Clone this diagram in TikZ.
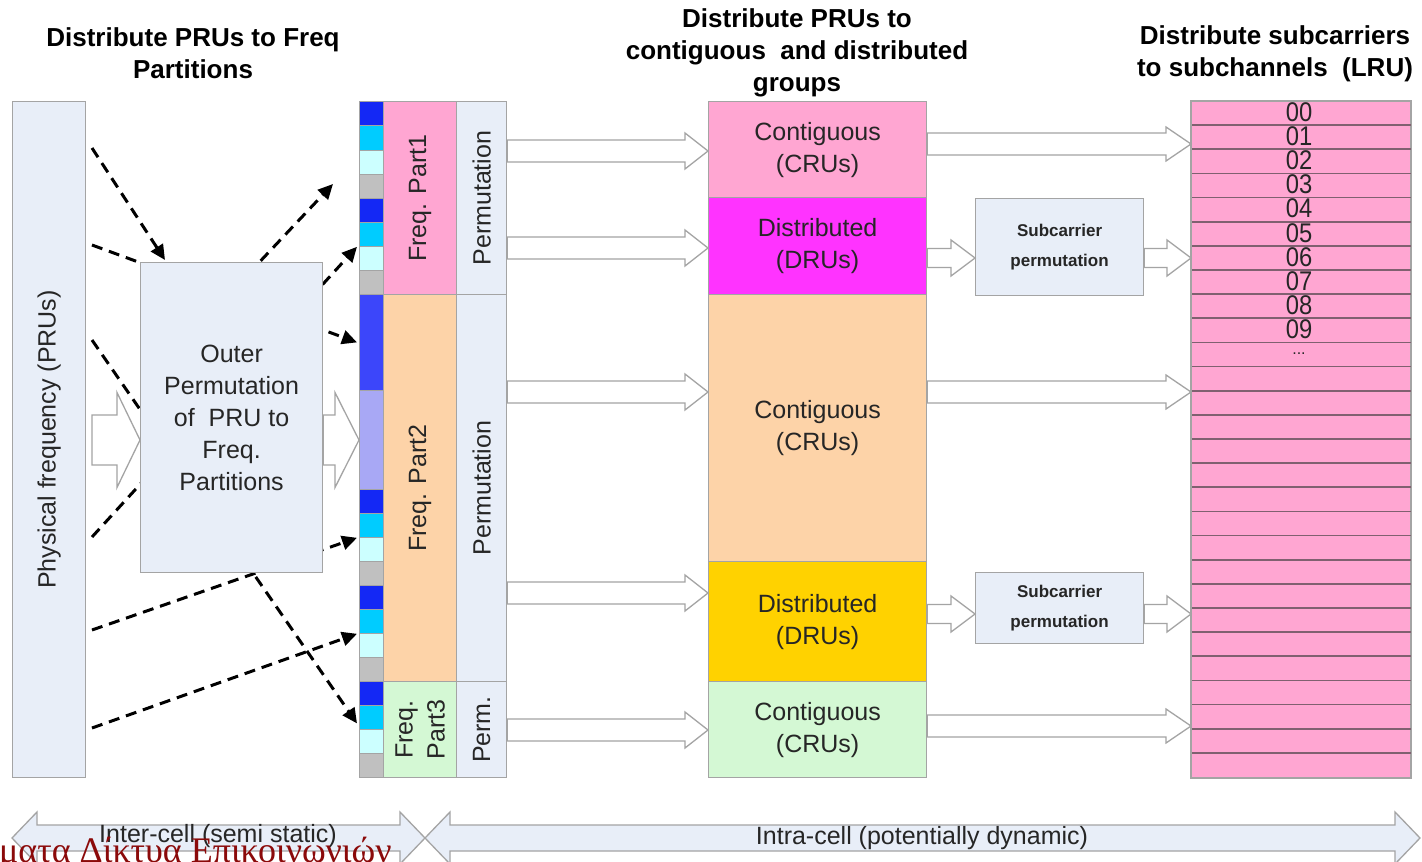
\documentclass[tikz,border=0pt]{standalone}
\usepackage{fontspec}
\setmainfont{Liberation Sans}
\newfontfamily\narrowfont[FakeStretch=0.88]{Liberation Sans}
\newfontfamily\greekfont{Liberation Serif}
\usetikzlibrary{arrows.meta,calc}

\definecolor{paneblue}{HTML}{E8EEF8}
\definecolor{edgegrey}{HTML}{A4A4A4}
\definecolor{pinkfill}{HTML}{FFA6D2}
\definecolor{magfill}{HTML}{FF33FF}
\definecolor{peachfill}{HTML}{FDD3A8}
\definecolor{goldfill}{HTML}{FFD200}
\definecolor{greenfill}{HTML}{D4F8D4}
\definecolor{sblue}{HTML}{1428F5}
\definecolor{scyan}{HTML}{00CCFF}
\definecolor{spale}{HTML}{CCFFFF}
\definecolor{sgrey}{HTML}{C0C0C0}
\definecolor{sroyal}{HTML}{3C46FA}
\definecolor{slav}{HTML}{A8A8F5}
\definecolor{rowline}{HTML}{806070}
\definecolor{inktext}{HTML}{262626}
\definecolor{wmred}{HTML}{8B0A0A}

\newcommand\bodysize{\fontsize{25}{32}\selectfont}
\newcommand\titlesize{\fontsize{26}{32}\selectfont\bfseries}
\newcommand\smallbold{\fontsize{17}{30}\selectfont\bfseries}

% rectangular cell: name, x1, y1, x2, y2, extra style, text
\newcommand\cellbox[7]{%
  \node[cell,#6,minimum width={#4-#2},minimum height={#5-#3}] (#1) at (#2,#3) {#7};}

% hollow right-pointing block arrow: from, to, y, body half, head half, head length
\newcommand\harrow[6]{%
  \filldraw[hollow] let \p1=(#1), \p2=(#2) in
    (\x1,{-(#3-#4)*1pt}) -- ({\x2-#6pt},{-(#3-#4)*1pt}) -- ({\x2-#6pt},{-(#3-#5)*1pt})
    -- (\x2,{-#3pt}) -- ({\x2-#6pt},{-(#3+#5)*1pt}) -- ({\x2-#6pt},{-(#3+#4)*1pt})
    -- (\x1,{-(#3+#4)*1pt}) -- cycle;}

% double-headed band arrow: x0, x1, y, body half, head half, head length
\newcommand\dblarrow[6]{%
  \filldraw[band] (#1,#3) -- ({#1+#6},{#3-#5}) -- ({#1+#6},{#3-#4}) -- ({#2-#6},{#3-#4})
    -- ({#2-#6},{#3-#5}) -- (#2,#3) -- ({#2-#6},{#3+#5}) -- ({#2-#6},{#3+#4})
    -- ({#1+#6},{#3+#4}) -- ({#1+#6},{#3+#5}) -- cycle;}

\begin{document}
\begin{tikzpicture}[x=1pt,y=-1pt,
  cell/.style={draw=edgegrey,line width=1.2pt,inner sep=0pt,anchor=north west,
               text=inktext,font=\bodysize,align=center},
  stripcell/.style={draw=edgegrey,line width=0.8pt,inner sep=0pt,anchor=north west,
                    minimum width=24},
  txt/.style={font=\bodysize,text=inktext,align=center,inner sep=0pt},
  headline/.style={font=\titlesize,align=center,inner sep=0pt},
  hollow/.style={draw=edgegrey,fill=white,line width=1.3pt,line join=miter},
  band/.style={draw=edgegrey,fill=paneblue,line width=1.3pt,line join=miter},
  dasharrow/.style={line width=3pt,dash pattern=on 11pt off 7pt,
                    -{Triangle[length=15pt,width=14pt]}},
  rowsep/.style={draw=rowline,line width=1.6pt}]

\clip (0,0) rectangle (1422,862);
\fill[white] (0,0) rectangle (1422,862);

% column headings
\node[headline] (t1) at (193,53.5) {Distribute PRUs to Freq\\Partitions};
\node[headline] (t2) at (797,53) {Distribute PRUs to\\contiguous\ \ and distributed\\groups};
\node[headline] (t3) at (1275,53.5) {Distribute subcarriers\\to subchannels\ \ (LRU)};

% PRU strip beside the frequency partitions
\foreach \a/\b/\c [count=\i] in {
   101/125/sblue, 125/150/scyan, 150/174/spale, 174/198/sgrey,
   198/222/sblue, 222/246/scyan, 246/270/spale, 270/294/sgrey,
   294/390/sroyal, 390/489/slav,
   489/513/sblue, 513/537/scyan, 537/561/spale, 561/585/sgrey,
   585/609/sblue, 609/633/scyan, 633/657/spale, 657/681/sgrey,
   681/705/sblue, 705/729/scyan, 729/753/spale, 753/777/sgrey}
  \node[stripcell,fill=\c,minimum height={\b-\a}] (s\i) at (359,\a) {};

% start points of the PRU mapping lines
\coordinate (d1s) at (92,148);
\coordinate (d2s) at (92,245);
\coordinate (d3s) at (92,340);
\coordinate (d4s) at (92,537);
\coordinate (d5s) at (92,630);
\coordinate (d6s) at (92,728);
\coordinate (d7s) at (236,287);
\coordinate (d7e) at (333,184);

% dashed PRU mapping lines (the permutation box is drawn over them)
\draw[dasharrow] (d1s) -- (165,260);
\draw[dasharrow] (d2s) -- ($(s9.west)+(-2,0)$);
\draw[dasharrow] (d3s) -- ($(s20.west)+(-2,6)$);
\draw[dasharrow] (d4s) -- ($(s6.south west)+(-2,0)$);
\draw[dasharrow] (d5s) -- ($(s12.south west)+(-2,0)$);
\draw[dasharrow] (d6s) -- ($(s16.south west)+(-2,0)$);
\draw[dasharrow] (d7s) -- (d7e);

% physical frequency column and outer permutation
\cellbox{phys}{12}{101}{85}{777}{fill=paneblue}{}
\node[txt,rotate=90] (physt) at (phys.center) {Physical frequency (PRUs)};
\cellbox{outer}{140}{262}{322}{572}{fill=paneblue}
  {Outer\\Permutation\\of\ \ PRU to\\Freq.\\Partitions}

% frequency partitions
\cellbox{fp1}{383}{101}{456}{294}{fill=pinkfill}{}
\cellbox{fp2}{383}{294}{456}{681}{fill=peachfill}{}
\cellbox{fp3}{383}{681}{456}{777}{fill=greenfill}{}
\node[txt,rotate=90] (fp1t) at (fp1.center) {Freq. Part1};
\node[txt,rotate=90] (fp2t) at (fp2.center) {Freq. Part2};
\node[txt,rotate=90] (fp3t) at (fp3.center) {Freq.\\Part3};

% inner permutations
\cellbox{pm1}{456}{101}{506}{294}{fill=paneblue}{}
\cellbox{pm2}{456}{294}{506}{681}{fill=paneblue}{}
\cellbox{pm3}{456}{681}{506}{777}{fill=paneblue}{}
\node[txt,rotate=90] (pm1t) at (pm1.center) {Permutation};
\node[txt,rotate=90] (pm2t) at (pm2.center) {Permutation};
\node[txt,rotate=90] (pm3t) at (pm3.center) {Perm.};

% contiguous / distributed groups
\cellbox{g1}{708}{101}{926}{197}{fill=pinkfill}{Contiguous\\(CRUs)}
\cellbox{g2}{708}{197}{926}{294}{fill=magfill}{Distributed\\(DRUs)}
\cellbox{g3}{708}{294}{926}{561}{fill=peachfill}{Contiguous\\(CRUs)}
\cellbox{g4}{708}{561}{926}{681}{fill=goldfill}{Distributed\\(DRUs)}
\cellbox{g5}{708}{681}{926}{777}{fill=greenfill}{Contiguous\\(CRUs)}

% subcarrier permutation blocks
\cellbox{sp1}{975}{198}{1143}{295}{fill=paneblue,font=\smallbold}{Subcarrier\\permutation}
\cellbox{sp2}{975}{572}{1143}{643}{fill=paneblue,font=\smallbold}{Subcarrier\\permutation}

% logical resource units
\cellbox{lru}{1191}{101}{1410}{777}{fill=pinkfill}{}
\foreach \k in {1,...,27}
  \draw[rowsep] ($(lru.north west)+(0,\k*24.142857)$) -- ($(lru.north east)+(0,\k*24.142857)$);
\draw[edgegrey,line width=1.2pt] (lru.north west) rectangle (lru.south east);
\foreach \n [count=\k from 0] in {00,01,02,03,04,05,06,07,08,09}
  \node[inner sep=0pt,text=inktext,font=\narrowfont\fontsize{27}{27}\selectfont]
    (n\n) at (1299,{101+(\k+0.5)*24.142857-1}) {\n};
\node[inner sep=0pt,text=inktext,font=\fontsize{16}{16}\selectfont] (ndots) at (1299,354) {...};

% block arrows around the outer permutation
\coordinate (lin) at (92,440);
\harrow{lin}{outer.west}{440}{25}{47.5}{23}
\harrow{outer.east}{s10.west}{440}{25}{47.5}{24}

% block arrows into the groups
\harrow{pm1.east}{g1.west}{151}{11}{18}{23}
\harrow{pm1.east}{g2.west}{248}{11}{18}{23}
\harrow{pm2.east}{g3.west}{392}{11}{18}{23}
\harrow{pm2.east}{g4.west}{593}{11}{18}{23}
\harrow{pm3.east}{g5.west}{730}{11}{18}{23}

% block arrows towards the subchannels
\harrow{g1.east}{lru.west}{144}{11}{17}{25}
\harrow{g2.east}{sp1.west}{258}{9.5}{18}{24}
\harrow{sp1.east}{lru.west}{258}{9.5}{18}{24}
\harrow{g3.east}{lru.west}{392}{11}{17}{25}
\harrow{g4.east}{sp2.west}{614}{9.5}{18}{24}
\harrow{sp2.east}{lru.west}{614}{9.5}{18}{24}
\harrow{g5.east}{lru.west}{726}{11}{17}{25}

% scope bands along the bottom
\dblarrow{12}{425}{838}{13}{26}{25}
\dblarrow{425}{1420}{838}{13}{26}{25}
\node[txt] (inter) at (218,836) {Inter-cell (semi static)};
\node[txt] (intra) at (922,838) {Intra-cell (potentially dynamic)};

% caption running off the lower left edge
\node[anchor=base west,inner sep=0pt,text=wmred,font=\greekfont\fontsize{36}{36}\selectfont]
  (caption) at (-1,862) {ματα Δίκτυα Επικοινωνιών};
\end{tikzpicture}
\end{document}
